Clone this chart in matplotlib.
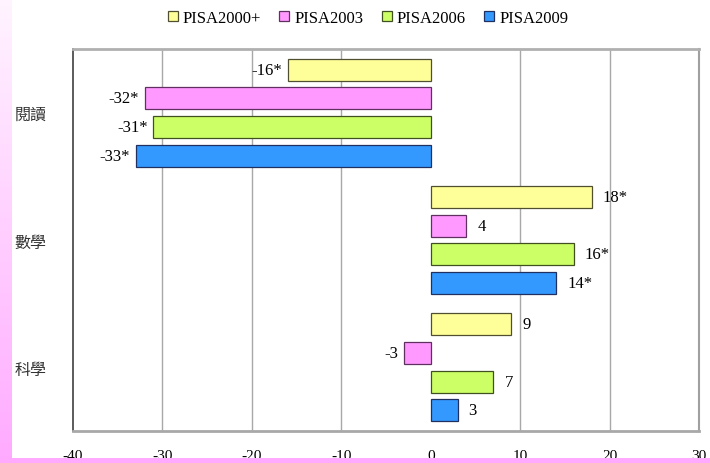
import numpy as np
import matplotlib
matplotlib.use("Agg")
import matplotlib.pyplot as plt
from matplotlib.patches import Rectangle, Patch
from matplotlib.colors import LinearSegmentedColormap

categories = ["閱讀", "數學", "科學"]
series = ["PISA2000+", "PISA2003", "PISA2006", "PISA2009"]
values = {
    "PISA2000+": [-16, 18, 9],
    "PISA2003": [-32, 4, -3],
    "PISA2006": [-31, 16, 7],
    "PISA2009": [-33, 14, 3],
}
labels = {
    "PISA2000+": ["-16*", "18*", "9"],
    "PISA2003": ["-32*", "4", "-3"],
    "PISA2006": ["-31*", "16*", "7"],
    "PISA2009": ["-33*", "14*", "3"],
}
xticks = [-40, -30, -20, -10, 0, 10, 20, 30]

colors = ["#FFFF99", "#FF99FF", "#CCFF66", "#3399FF"]
edges = ["#505030", "#603060", "#405020", "#203060"]

serif = ["Liberation Serif", "DejaVu Serif"]
cjk = ["Noto Sans CJK TC", "DejaVu Sans"]

fig = plt.figure(figsize=(7.10, 4.64), dpi=100)
fig.patch.set_facecolor("white")

# left pink gradient strip (background)
grad = np.linspace(0, 1, 256).reshape(-1, 1)
gax = fig.add_axes([0, 0, 12 / 710, 1], zorder=-5)
cmap = LinearSegmentedColormap.from_list("pk", ["#FFF4FF", "#FFAAFF"])
gax.imshow(grad, aspect="auto", cmap=cmap, origin="upper", extent=[0, 1, 0, 1])
gax.set_axis_off()

ax = fig.add_axes([73 / 710, 1 - 432 / 464, (699 - 73) / 710, (432 - 50) / 464])

slot = 0.225
h = 0.172
y = np.arange(len(categories))
for i, s in enumerate(series):
    off = (i - 1.5) * slot
    bars = ax.barh(y + off, values[s], height=h, color=colors[i],
                   edgecolor=edges[i], linewidth=0.9, zorder=3)
    for b, v, lab in zip(bars, values[s], labels[s]):
        yc = b.get_y() + b.get_height() / 2
        if v < 0:
            ax.annotate(lab, (v, yc), xytext=(-4, 0), textcoords="offset points",
                        ha="right", va="center", fontsize=12, family=serif)
        else:
            ax.annotate(lab, (v, yc), xytext=(8, 0), textcoords="offset points",
                        ha="left", va="center", fontsize=12, family=serif)

ax.set_xlim(-40, 30)
ax.set_ylim(2.5, -0.5)
ax.set_xticks(xticks)
ax.set_xticklabels([str(t) for t in xticks], family=serif, fontsize=11)
ax.set_yticks(y)
ax.set_yticklabels(categories, family=cjk, fontsize=11.5, color="#333333")
ax.tick_params(axis="y", length=0, pad=19)
ax.tick_params(axis="x", length=0, pad=13)

for t in xticks:
    if t not in (-40, 0, 30):
        ax.axvline(t, color="#A8A8A8", linewidth=1.0, zorder=1)

ax.spines["left"].set_color("#404040")
ax.spines["left"].set_linewidth(1.2)
ax.spines["top"].set_color("#B0B0B0")
ax.spines["top"].set_linewidth(2.0)
ax.spines["right"].set_color("#A0A0A0")
ax.spines["right"].set_linewidth(1.5)
ax.spines["bottom"].set_color("#A8A8A8")
ax.spines["bottom"].set_linewidth(2.0)

handles = [Patch(facecolor=c, edgecolor=e, linewidth=0.9) for c, e in zip(colors, edges)]
leg = fig.legend(handles, series, loc="center", bbox_to_anchor=(0.518, 1 - 19 / 464),
                 ncol=4, frameon=False, prop={"family": serif, "size": 12},
                 handlelength=0.6, handleheight=0.6, handletextpad=0.3,
                 columnspacing=1.1)

# bottom pink band drawn over the tick labels
fig.add_artist(Rectangle((0, 0), 1, 5 / 464, transform=fig.transFigure,
                         facecolor="#FFAAFF", edgecolor="none", zorder=10))

fig.savefig("out.png", dpi=100)
